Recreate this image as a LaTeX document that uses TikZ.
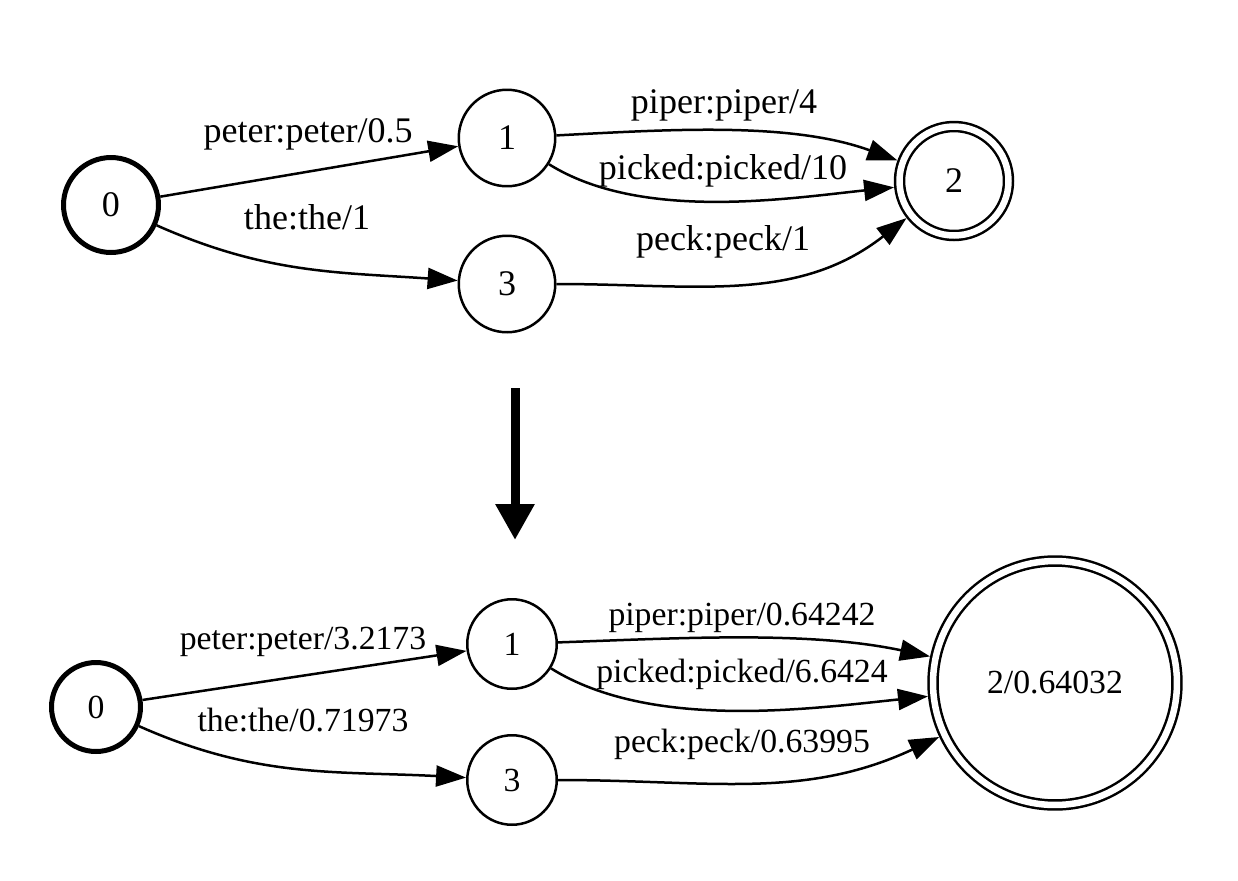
\documentclass[tikz,border=0pt]{standalone}
\usepackage{fontspec}
\setmainfont{Liberation Serif}
\usetikzlibrary{arrows.meta}

\begin{document}
\begin{tikzpicture}[x=0.02cm, y=-0.02cm]
\tikzset{>={Triangle[length=0.6cm,width=0.42cm]}}

\tikzstyle{state}  = [circle, draw, line width=0.05cm, inner sep=0pt,
                      font=\fontsize{20.5}{24}\selectfont]
\tikzstyle{start}  = [state, line width=0.1cm]
\tikzstyle{final}  = [state, double, double distance=0.13cm, outer sep=0.115cm]
\tikzstyle{arc}    = [->, line width=0.05cm]
\tikzstyle{weight} = [inner sep=0pt, font=\fontsize{20.5}{24}\selectfont]
\tikzstyle{small}  = [font=\fontsize{19.2}{23}\selectfont]

\useasboundingbox (0,0) rectangle (1238,880);

% before
\node[start, minimum size=1.9cm]  (A0) at (111,205) {0};
\node[state, minimum size=1.93cm] (A1) at (507,138) {1};
\node[state, minimum size=1.93cm] (A3) at (507,284) {3};
\node[final, minimum size=2.18cm] (A2) at (954,181) {2};

\draw[arc] (A0) -- (A1);
\draw[arc] (A0) to[out=-24, in=176] (A3);
\draw[arc] (A1) to[out=3, in=160, looseness=0.85] (A2);
\draw[arc] (A1) to[out=-32, in=186, looseness=0.8] (A2);
\draw[arc] (A3) to[out=0, in=218] (A2);

\node[weight] (LA01)  at (308,134) {peter:peter/0.5};
\node[weight] (LA03)  at (307,217) {the:the/1};
\node[weight] (LA12a) at (724,105) {piper:piper/4};
\node[weight] (LA12b) at (723,171) {picked:picked/10};
\node[weight] (LA32)  at (723,242) {peck:peck/1};

% big arrow
\coordinate (top) at (515,388);
\coordinate (bot) at (515,540);
\draw[line width=0.18cm, -{Triangle[length=0.72cm,width=0.74cm]}] (top) -- (bot);

% after
\node[start, small, minimum size=1.78cm] (B0) at (96,707) {0};
\node[state, small, minimum size=1.79cm] (B1) at (512,644) {1};
\node[state, small, minimum size=1.79cm] (B3) at (512,780) {3};
\node[final, small, minimum size=4.88cm] (B2) at (1055,683) {2/0.64032};

\draw[arc] (B0) -- (B1);
\draw[arc] (B0) to[out=-24, in=177] (B3);
\draw[arc] (B1) to[out=2, in=168, looseness=0.85] (B2);
\draw[arc] (B1) to[out=-32, in=186, looseness=0.8] (B2);
\draw[arc] (B3) to[out=0, in=205] (B2);

\node[weight, small] (LB01)  at (303,642) {peter:peter/3.2173};
\node[weight, small] (LB03)  at (303,720) {the:the/0.71973};
\node[weight, small] (LB12a) at (742,618) {piper:piper/0.64242};
\node[weight, small] (LB12b) at (742,674) {picked:picked/6.6424};
\node[weight, small] (LB32)  at (742,744) {peck:peck/0.63995};

\end{tikzpicture}
\end{document}
